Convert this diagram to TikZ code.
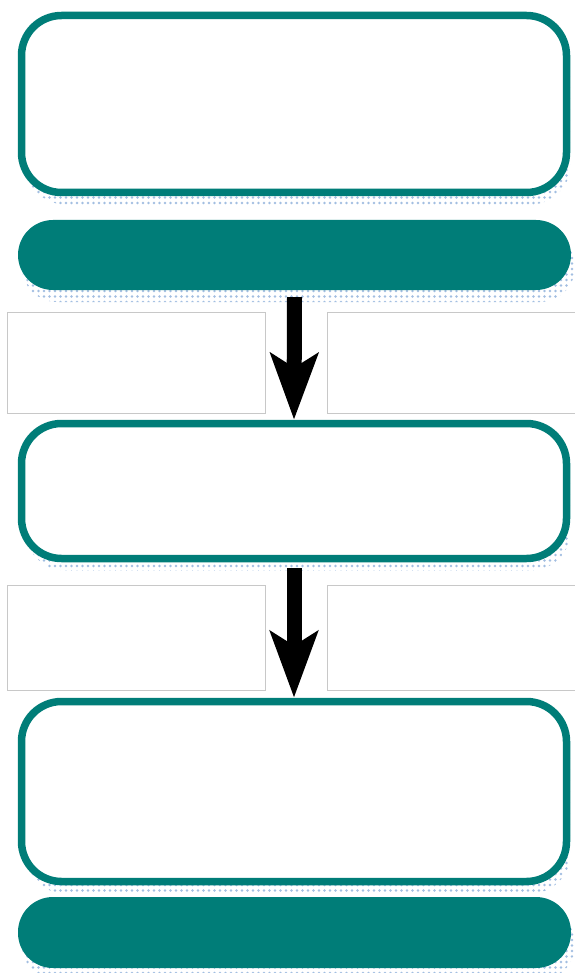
\documentclass[tikz,border=0pt]{standalone}
\usepackage{tikz}
\definecolor{tealline}{RGB}{0,125,120}
\definecolor{dotblue}{RGB}{70,125,195}
\definecolor{sidegray}{RGB}{200,200,200}
\usetikzlibrary{
  arrows.meta,
  positioning,
  shadows,
  patterns.meta
}

\begin{document}
\begin{tikzpicture}[
  x=1pt, y=-1pt,
  panel/.style={
    draw=tealline, line width=7.5pt, fill=white, rounded corners=40pt,
    minimum width=545pt, inner sep=0pt,
    drop shadow={shadow xshift=4pt, shadow yshift=-12pt, fill=none,
      pattern={Dots[distance=5.5pt, radius=1.3pt]}, pattern color=dotblue}
  },
  band/.style={
    fill=tealline, rounded corners=35pt,
    minimum width=553pt, minimum height=70pt, inner sep=0pt,
    drop shadow={shadow xshift=4pt, shadow yshift=-12pt, fill=none,
      pattern={Dots[distance=5.5pt, radius=1.3pt]}, pattern color=dotblue}
  },
  sidebox/.style={
    draw=sidegray, line width=1pt, inner sep=0pt
  },
  flow/.style={-{Stealth[length=66pt, width=47pt, inset=14pt]}, line width=15pt, black},
]

\useasboundingbox (0,0) rectangle (574,973);

% side boxes
\node[sidebox, minimum width=258pt, minimum height=101pt] (sideA) at (136,362.5) {};
\node[sidebox, minimum width=253pt, minimum height=101pt] (sideB) at (453.5,362.5) {};
\node[sidebox, minimum width=258pt, minimum height=105pt] (sideC) at (136,637.5) {};
\node[sidebox, minimum width=253pt, minimum height=105pt] (sideD) at (453.5,637.5) {};

% panels and bands
\node[panel, minimum height=177pt] (top)    at (294,104)   {};
\node[band]                         (bandA)  at (294.5,255) {};
\node[panel, minimum height=135pt] (middle) at (294,491)   {};
\node[panel, minimum height=180pt] (bottom) at (294,791.5) {};
\node[band, minimum height=71pt]   (bandB)  at (294.5,932.5) {};

\draw[flow] ([yshift=-7pt]bandA.south)  -- (middle.north);
\draw[flow] ([yshift=-6pt]middle.south) -- (bottom.north);

\end{tikzpicture}
\end{document}
